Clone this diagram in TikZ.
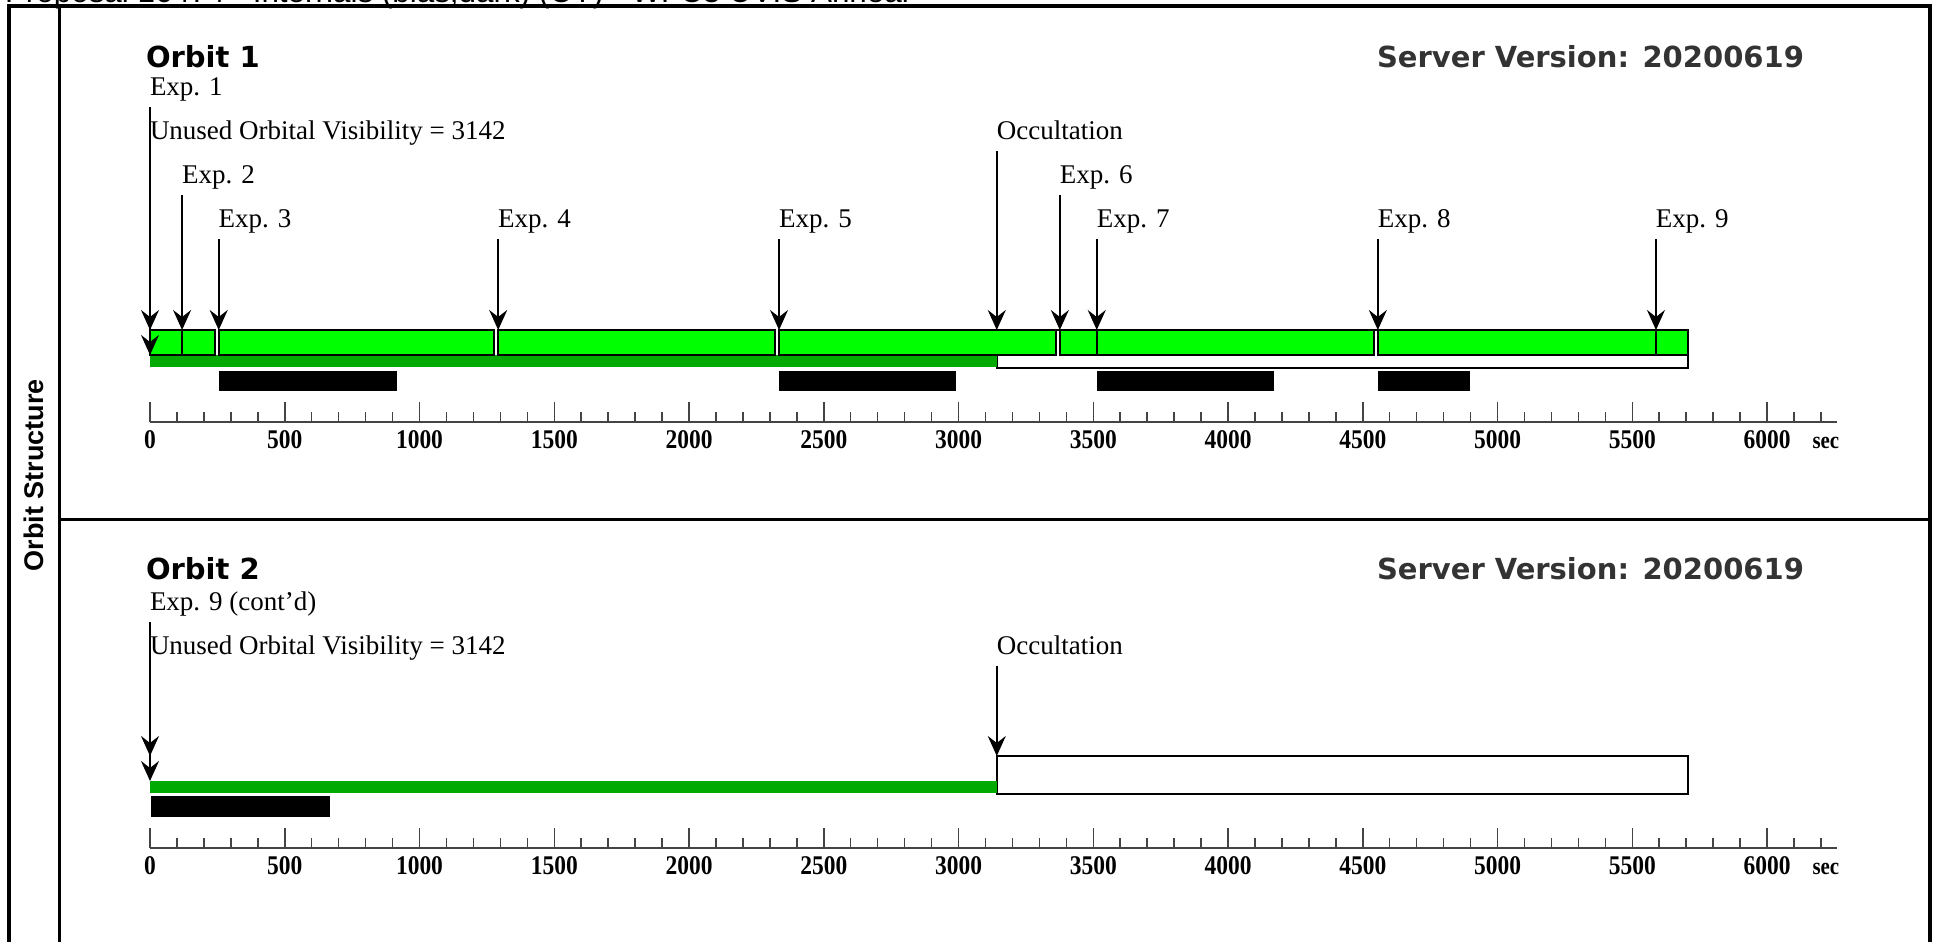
\documentclass[tikz,border=0pt]{standalone}
\usepackage{fontspec}
\setmainfont{Liberation Serif}
\newfontfamily\titlefont{DejaVu Sans}
\newfontfamily\hdrfont{Liberation Sans}
\newfontfamily\tickfont{Liberation Serif}[FakeStretch=0.87]
\usetikzlibrary{arrows.meta,positioning}
\definecolor{expgreen}{RGB}{0,255,0}
\definecolor{visgreen}{RGB}{0,170,0}
\definecolor{srvgray}{RGB}{51,51,51}
\definecolor{axisgray}{RGB}{68,68,68}

\begin{document}
\begin{tikzpicture}[
  x=0.5pt, y=-0.5pt,
  every node/.style={inner sep=0pt, outer sep=0pt},
  orbtitle/.style={font=\titlefont\bfseries\fontsize{14.5}{17}\selectfont, anchor=base west},
  srvlbl/.style={orbtitle, text=srvgray, anchor=base east},
  explbl/.style={font=\fontsize{13.5}{16}\selectfont, anchor=base west},
  ticklbl/.style={font=\tickfont\bfseries\fontsize{13.5}{16}\selectfont, anchor=base},
  seclbl/.style={font=\tickfont\bfseries\fontsize{12}{14}\selectfont, anchor=base west},
  sidelbl/.style={font=\hdrfont\bfseries\fontsize{13.5}{16}\selectfont, rotate=90},
  hdrlbl/.style={font=\hdrfont\fontsize{15.7}{18}\selectfont, anchor=base west},
  exparrow/.style={-{Stealth[length=10pt, width=9pt, inset=3.5pt]}, line width=1pt},
  expbar/.style={draw=black, fill=expgreen, line width=1pt},
  visbar/.style={fill=visgreen},
  occbox/.style={draw=black, fill=white, line width=1pt},
  bufbar/.style={fill=black},
  axisline/.style={draw=axisgray, line width=1pt},
  ticktick/.style={draw=axisgray, line width=0.75pt},
  frameline/.style={line width=2pt},
  divline/.style={line width=1.5pt},
]
\useasboundingbox (0,0) rectangle (1939,942);

%% ── Header (cut at the top edge) ─────────────────────────────────────────
\node[hdrlbl] (hdr) at (5,3) {Proposal 16474 - Internals (bias,dark) (CY) - WFC3 UVIS Anneal};

%% ── Frame ─────────────────────────────────────────────────────────────────
\draw[frameline] (9,942) -- (9,6) -- (1930,6) -- (1930,942);
\draw[divline] (59,6) -- (59,942);
\draw[divline] (59,519) -- (1930,519);
\node[sidelbl] (side) at (34,475) {Orbit Structure};

%% ── Titles ────────────────────────────────────────────────────────────────
\node[orbtitle] (orb1) at (146,68) {Orbit 1};
\node[srvlbl] (srv1) at (1804,68) {Server Version: 20200619};
\node[orbtitle] (orb2) at (146,579) {Orbit 2};
\node[srvlbl] (srv2) at (1804,579) {Server Version: 20200619};

%% ── Orbit 1 (x in seconds) ────────────────────────────────────────────────
\begin{scope}[shift={(150,0)}, x=0.13475pt]

% visibility and occultation
\draw[occbox] (3142,330) rectangle (5707,368);
\fill[visbar] (0,355) rectangle (3142,367);

% exposures
\draw[expbar] (0,330) rectangle (119,355);
\draw[expbar] (119,330) rectangle (240,355);
\draw[expbar] (255,330) rectangle (1277,355);
\draw[expbar] (1292,330) rectangle (2319,355);
\draw[expbar] (2334,330) rectangle (3361,355);
\draw[expbar] (3376,330) rectangle (3513,355);
\draw[expbar] (3513,330) rectangle (4541,355);
\draw[expbar] (4556,330) rectangle (5588,355);
\draw[expbar] (5588,330) rectangle (5707,355);

% black bars
\fill[bufbar] (257,371) rectangle (915,391);
\fill[bufbar] (2334,371) rectangle (2991,391);
\fill[bufbar] (3514,371) rectangle (4172,391);
\fill[bufbar] (4556,371) rectangle (4898,391);

% labels
\node[explbl] (o1e1) at (0,95) {Exp. 1};
\node[explbl] (o1vis) at (0,139) {Unused Orbital Visibility = 3142};
\node[explbl] (o1occ) at (3142,139) {Occultation};
\node[explbl] (o1e2) at (119,183) {Exp. 2};
\node[explbl] (o1e6) at (3376,183) {Exp. 6};
\node[explbl] (o1e3) at (255,227) {Exp. 3};
\node[explbl] (o1e4) at (1292,227) {Exp. 4};
\node[explbl] (o1e5) at (2334,227) {Exp. 5};
\node[explbl] (o1e7) at (3513,227) {Exp. 7};
\node[explbl] (o1e8) at (4556,227) {Exp. 8};
\node[explbl] (o1e9) at (5588,227) {Exp. 9};

% arrow ends
\coordinate (o1e1t) at (0,330);
\coordinate (o1vist) at (0,355);
\coordinate (o1occt) at (3142,330);
\coordinate (o1e2t) at (119,330);
\coordinate (o1e6t) at (3376,330);
\coordinate (o1e3t) at (255,330);
\coordinate (o1e4t) at (1292,330);
\coordinate (o1e5t) at (2334,330);
\coordinate (o1e7t) at (3513,330);
\coordinate (o1e8t) at (4556,330);
\coordinate (o1e9t) at (5588,330);

% arrows
\draw[exparrow] ([yshift=-6pt]o1vis.base west) -- (o1vist);
\draw[exparrow] ([yshift=-6pt]o1e1.base west) -- (o1e1t);
\draw[exparrow] ([yshift=-6pt]o1occ.base west) -- (o1occt);
\draw[exparrow] ([yshift=-6pt]o1e2.base west) -- (o1e2t);
\draw[exparrow] ([yshift=-6pt]o1e6.base west) -- (o1e6t);
\draw[exparrow] ([yshift=-6pt]o1e3.base west) -- (o1e3t);
\draw[exparrow] ([yshift=-6pt]o1e4.base west) -- (o1e4t);
\draw[exparrow] ([yshift=-6pt]o1e5.base west) -- (o1e5t);
\draw[exparrow] ([yshift=-6pt]o1e7.base west) -- (o1e7t);
\draw[exparrow] ([yshift=-6pt]o1e8.base west) -- (o1e8t);
\draw[exparrow] ([yshift=-6pt]o1e9.base west) -- (o1e9t);

% time axis
\draw[axisline] (0,422) -- (6260,422);
\foreach \s in {0,100,...,6200} \draw[ticktick] (\s,422) -- (\s,412);
\foreach \s in {0,500,...,6000} {
  \draw[ticktick] (\s,422) -- (\s,402);
  \node[ticklbl] (o1t\s) at (\s,448) {\s};
}
\node[seclbl] (o1sec) at ([xshift=11pt]o1t6000.base east) {sec};
\end{scope}

%% ── Orbit 2 (x in seconds) ────────────────────────────────────────────────
\begin{scope}[shift={(150,0)}, x=0.13475pt]

\draw[occbox] (3142,756) rectangle (5707,794);
\fill[visbar] (0,781) rectangle (3142,793);
\fill[bufbar] (4,796) rectangle (668,817);

\node[explbl] (o2e9) at (0,610) {Exp. 9 (cont'd)};
\node[explbl] (o2vis) at (0,654) {Unused Orbital Visibility = 3142};
\node[explbl] (o2occ) at (3142,654) {Occultation};

\coordinate (o2e9t) at (0,756);
\coordinate (o2vist) at (0,781);
\coordinate (o2occt) at (3142,756);

\draw[exparrow] ([yshift=-6pt]o2vis.base west) -- (o2vist);
\draw[exparrow] ([yshift=-6pt]o2e9.base west) -- (o2e9t);
\draw[exparrow] ([yshift=-6pt]o2occ.base west) -- (o2occt);

% time axis
\draw[axisline] (0,848) -- (6260,848);
\foreach \s in {0,100,...,6200} \draw[ticktick] (\s,848) -- (\s,838);
\foreach \s in {0,500,...,6000} {
  \draw[ticktick] (\s,848) -- (\s,828);
  \node[ticklbl] (o2t\s) at (\s,874) {\s};
}
\node[seclbl] (o2sec) at ([xshift=11pt]o2t6000.base east) {sec};
\end{scope}

\end{tikzpicture}
\end{document}
